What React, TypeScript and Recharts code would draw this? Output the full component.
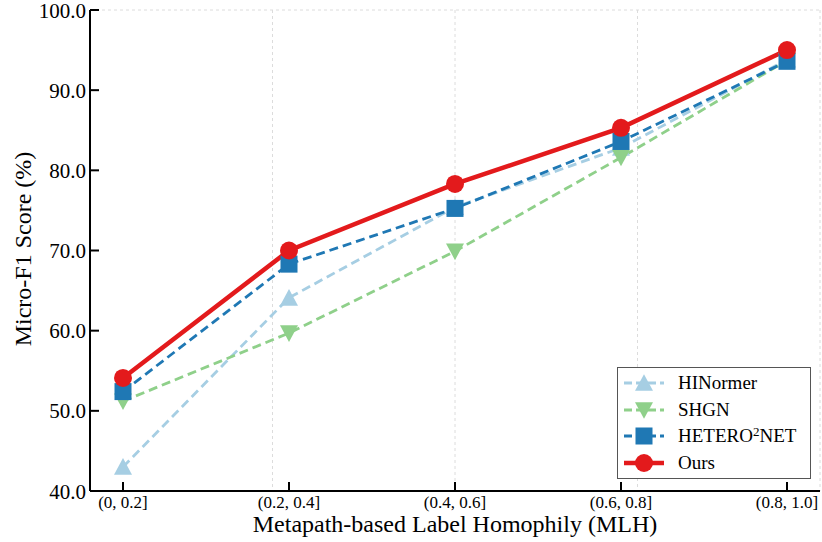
import { CartesianGrid, Line, LineChart, XAxis, YAxis } from "recharts";

const categories = ["(0, 0.2]", "(0.2, 0.4]", "(0.4, 0.6]", "(0.6, 0.8]", "(0.8, 1.0]"];
const hinormer = [43.0, 64.1, 75.4, 82.8, 93.8];
const shgn = [51.2, 59.7, 69.9, 81.6, 93.7];
const hetero2net = [52.4, 68.3, 75.25, 83.6, 93.6];
const ours = [54.1, 70.0, 78.3, 85.3, 95.0];
const yTicks = [40, 50, 60, 70, 80, 90, 100];

const data = categories.map((c, i) => ({
  mlh: c,
  hinormer: hinormer[i],
  shgn: shgn[i],
  hetero2net: hetero2net[i],
  ours: ours[i],
}));

const FONT = '"Liberation Serif", "Times New Roman", serif';
const TICK_LEN = 9;

const C_HIN = "#a6cee3";
const C_SHGN = "#8fd08a";
const C_HET = "#1f78b4";
const C_OURS = "#e31a1c";

// marker shapes
function TriUp({ cx, cy, fill, size = 18 }: any) {
  if (cx == null || cy == null) return null;
  const h = size * 0.87;
  return (
    <polygon
      points={`${cx},${cy - h / 2 - 1} ${cx - size / 2},${cy + h / 2} ${cx + size / 2},${cy + h / 2}`}
      fill={fill}
    />
  );
}
function TriDown({ cx, cy, fill, size = 18 }: any) {
  if (cx == null || cy == null) return null;
  const h = size * 0.87;
  return (
    <polygon
      points={`${cx - size / 2},${cy - h / 2} ${cx + size / 2},${cy - h / 2} ${cx},${cy + h / 2 + 1}`}
      fill={fill}
    />
  );
}
function Square({ cx, cy, fill, size = 17 }: any) {
  if (cx == null || cy == null) return null;
  return <rect x={cx - size / 2} y={cy - size / 2} width={size} height={size} fill={fill} />;
}
function Circle({ cx, cy, fill, r = 9 }: any) {
  if (cx == null || cy == null) return null;
  return <circle cx={cx} cy={cy} r={r} fill={fill} />;
}

// inward tick marks + labels
const BottomTick = ({ x, y, payload }: any) => (
  <g>
    <line x1={x} y1={y} x2={x} y2={y - TICK_LEN} stroke="#000" strokeWidth={2} />
    <text x={x} y={y + 17} textAnchor="middle" fontFamily={FONT} fontSize={17} fill="#000">
      {payload.value}
    </text>
  </g>
);
const TopTick = ({ x, y }: any) => (
  <line x1={x} y1={y} x2={x} y2={y + TICK_LEN} stroke="#000" strokeWidth={2} />
);
const LeftTick = ({ x, y, payload }: any) => (
  <g>
    <line x1={x} y1={y} x2={x + TICK_LEN} y2={y} stroke="#000" strokeWidth={2} />
    <text x={x - 4} y={y + 7.5} textAnchor="end" fontFamily={FONT} fontSize={21} fill="#000">
      {Number(payload.value).toFixed(1)}
    </text>
  </g>
);
const RightTick = ({ x, y }: any) => (
  <line x1={x} y1={y} x2={x - TICK_LEN} y2={y} stroke="#000" strokeWidth={2} />
);

const YLabel = () => (
  <text
    x={23}
    y={249}
    transform="rotate(-90 23 249)"
    textAnchor="middle"
    dominantBaseline="central"
    fontFamily={FONT}
    fontSize={24}
    fill="#000"
  >
    Micro-F1 Score (%)
  </text>
);

const legendItems = [
  { key: "hin", color: C_HIN, dash: "8 4", width: 2.8, marker: "up", label: <>HINormer</> },
  { key: "shgn", color: C_SHGN, dash: "8 4", width: 2.8, marker: "down", label: <>SHGN</> },
  {
    key: "het",
    color: C_HET,
    dash: "8 4",
    width: 2.8,
    marker: "sq",
    label: (
      <>
        HETERO<sup style={{ fontSize: 13, verticalAlign: "6px", lineHeight: 0 }}>2</sup>NET
      </>
    ),
  },
  { key: "ours", color: C_OURS, dash: undefined, width: 4.5, marker: "circle", label: <>Ours</> },
];

function LegendBox() {
  return (
    <div
      style={{
        position: "absolute",
        left: 617,
        top: 367,
        width: 194,
        height: 112,
        border: "1px solid #555",
        background: "#fff",
        boxSizing: "border-box",
        paddingTop: 2,
      }}
    >
      {legendItems.map((it) => (
        <div key={it.key} style={{ display: "flex", alignItems: "center", height: 26.5 }}>
          <svg width={60} height={24} style={{ flex: "none" }}>
            <line
              x1={6}
              x2={46}
              y1={12}
              y2={12}
              stroke={it.color}
              strokeWidth={it.width}
              strokeDasharray={it.dash}
            />
            {it.marker === "up" && <TriUp cx={26} cy={12} fill={it.color} />}
            {it.marker === "down" && <TriDown cx={26} cy={12} fill={it.color} />}
            {it.marker === "sq" && <Square cx={26} cy={12} fill={it.color} />}
            {it.marker === "circle" && <Circle cx={26} cy={12} fill={it.color} />}
          </svg>
          <span style={{ fontFamily: FONT, fontSize: 19, color: "#000", whiteSpace: "nowrap" }}>
            {it.label}
          </span>
        </div>
      ))}
    </div>
  );
}

export default function App() {
  return (
    <div style={{ position: "absolute", left: 0, top: 0, width: 822, height: 542, background: "#fff" }}>
      <LineChart
        width={822}
        height={542}
        data={data}
        margin={{ top: 10, right: 2, left: 0, bottom: 0 }}
      >
        <CartesianGrid stroke="#dcdcdc" strokeDasharray="3 3" strokeWidth={1} />
        <XAxis
          dataKey="mlh"
          xAxisId="bottom"
          height={51}
          padding={{ left: 33, right: 33 }}
          axisLine={{ stroke: "#000", strokeWidth: 2 }}
          tickLine={false}
          tickSize={0}
          tickMargin={0}
          tick={<BottomTick />}
          interval={0}
          label={{
            value: "Metapath-based Label Homophily (MLH)",
            position: "insideBottom",
            offset: 10,
            fontFamily: FONT,
            fontSize: 24,
            fill: "#000",
          }}
        />
        <XAxis
          dataKey="mlh"
          xAxisId="top"
          orientation="top"
          height={0}
          padding={{ left: 33, right: 33 }}
          axisLine={{ stroke: "#000", strokeWidth: 2 }}
          tickLine={false}
          tickSize={0}
          tickMargin={0}
          tick={<TopTick />}
          interval={0}
        />
        <YAxis
          yAxisId="left"
          width={90}
          domain={[40, 100]}
          ticks={yTicks}
          type="number"
          allowDataOverflow
          axisLine={{ stroke: "#000", strokeWidth: 2 }}
          tickLine={false}
          tickSize={0}
          tickMargin={0}
          tick={<LeftTick />}
          interval={0}
          label={<YLabel />}
        />
        <YAxis
          yAxisId="right"
          orientation="right"
          width={0}
          domain={[40, 100]}
          ticks={yTicks}
          type="number"
          axisLine={{ stroke: "#000", strokeWidth: 2 }}
          tickLine={false}
          tickSize={0}
          tickMargin={0}
          tick={<RightTick />}
          interval={0}
        />
        <Line
          xAxisId="bottom"
          yAxisId="left"
          dataKey="hinormer"
          name="HINormer"
          stroke={C_HIN}
          strokeWidth={2.8}
          strokeDasharray="9 5"
          dot={(p: any) => <TriUp key={`h${p.index}`} cx={p.cx} cy={p.cy} fill={C_HIN} />}
          activeDot={false}
          isAnimationActive={false}
        />
        <Line
          xAxisId="bottom"
          yAxisId="left"
          dataKey="shgn"
          name="SHGN"
          stroke={C_SHGN}
          strokeWidth={2.8}
          strokeDasharray="9 5"
          dot={(p: any) => <TriDown key={`s${p.index}`} cx={p.cx} cy={p.cy} fill={C_SHGN} />}
          activeDot={false}
          isAnimationActive={false}
        />
        <Line
          xAxisId="bottom"
          yAxisId="left"
          dataKey="hetero2net"
          name="HETERO2NET"
          stroke={C_HET}
          strokeWidth={2.8}
          strokeDasharray="9 5"
          dot={(p: any) => <Square key={`t${p.index}`} cx={p.cx} cy={p.cy} fill={C_HET} />}
          activeDot={false}
          isAnimationActive={false}
        />
        <Line
          xAxisId="bottom"
          yAxisId="left"
          dataKey="ours"
          name="Ours"
          stroke={C_OURS}
          strokeWidth={4.5}
          dot={(p: any) => <Circle key={`o${p.index}`} cx={p.cx} cy={p.cy} fill={C_OURS} />}
          activeDot={false}
          isAnimationActive={false}
        />
      </LineChart>
      <LegendBox />
    </div>
  );
}
